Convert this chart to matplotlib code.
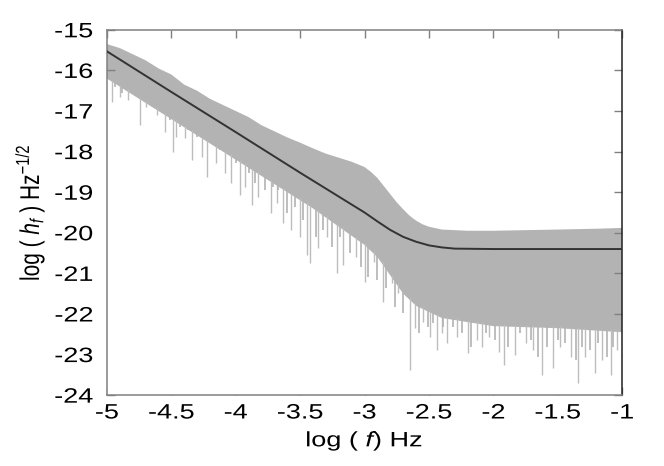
import matplotlib
matplotlib.use("Agg")
import numpy as np
import matplotlib.pyplot as plt
from matplotlib import patheffects
from matplotlib.transforms import Affine2D

plt.rcParams['font.family'] = ['Liberation Sans', 'DejaVu Sans']
plt.rcParams['mathtext.fontset'] = 'custom'
plt.rcParams['mathtext.rm'] = 'Liberation Sans'
plt.rcParams['mathtext.it'] = 'Liberation Sans:italic'
plt.rcParams['axes.unicode_minus'] = False

# smooth model curve (dark line)
curve_x = [-5.0, -4.5, -4.0, -3.5, -3.0, -2.9, -2.8, -2.7, -2.6, -2.5, -2.4, -2.3, -2.0, -1.0]
curve_y = [-15.53, -16.53, -17.52, -18.52, -19.5, -19.72, -19.93, -20.1, -20.22, -20.31,
           -20.36, -20.39, -20.4, -20.4]

# noisy spectrum: upper edge and solid lower edge of the grey band
upper_x = [-5.0, -4.9, -4.8, -4.7, -4.6, -4.5, -4.4, -4.3, -4.2, -4.1, -4.0, -3.9, -3.8,
           -3.7, -3.6, -3.5, -3.4, -3.3, -3.2, -3.1, -3.0, -2.95, -2.9, -2.85, -2.8, -2.75,
           -2.7, -2.65, -2.6, -2.55, -2.5, -2.4, -2.2, -2.0, -1.5, -1.2, -1.0]
upper_y = [-15.35, -15.45, -15.6, -15.75, -15.95, -16.1, -16.35, -16.5, -16.7, -16.85,
           -17.0, -17.15, -17.35, -17.5, -17.65, -17.78, -17.92, -18.05, -18.15, -18.25,
           -18.38, -18.5, -18.65, -18.85, -19.05, -19.25, -19.42, -19.58, -19.7, -19.79,
           -19.85, -19.92, -19.95, -19.95, -19.92, -19.9, -19.88]

lower_x = [-5.0, -4.8, -4.6, -4.4, -4.2, -4.0, -3.8, -3.6, -3.4, -3.2, -3.0, -2.9, -2.8,
           -2.7, -2.6, -2.5, -2.4, -2.2, -2.0, -1.5, -1.0]
lower_y = [-16.2, -16.6, -17.0, -17.4, -17.8, -18.2, -18.6, -19.0, -19.4, -19.85, -20.3,
           -20.6, -21.05, -21.5, -21.8, -21.95, -22.1, -22.2, -22.3, -22.35, -22.45]

# deep downward spikes (x, tip)
spike_x = [-4.96, -4.90, -4.84, -4.74, -4.70, -4.61, -4.55, -4.49, -4.46, -4.39, -4.34,
           -4.26, -4.22, -4.15, -4.08, -4.04, -3.97, -3.93, -3.87, -3.83, -3.73, -3.68,
           -3.63, -3.57, -3.50, -3.45, -3.42, -3.36, -3.29, -3.21, -3.17, -3.07, -3.00,
           -2.93, -2.86, -2.79, -2.74, -2.65, -2.61, -2.55, -2.49, -2.44, -2.40, -2.36,
           -2.28, -2.20, -2.13, -2.09, -2.03, -1.96, -1.92, -1.83, -1.75, -1.69, -1.62,
           -1.54, -1.48, -1.40, -1.34, -1.29, -1.21, -1.16, -1.09, -1.04]
spike_y = [-16.77, -16.65, -16.72, -17.34, -16.9, -17.1, -17.51, -18.0, -17.64, -17.66,
           -18.2, -18.13, -18.62, -18.28, -18.52, -18.77, -19.06, -18.87, -19.31, -19.11,
           -19.51, -19.26, -19.75, -19.93, -20.1, -20.54, -20.74, -20.37, -20.1, -20.99,
           -20.79, -20.59, -21.2, -20.71, -21.7, -21.23, -21.48, -23.37, -22.34, -22.19,
           -22.56, -22.88, -22.46, -22.71, -22.56, -22.96, -22.64, -22.81, -22.56, -22.93,
           -23.25, -23.0, -22.71, -22.88, -23.5, -23.33, -22.81, -23.05, -23.69, -23.05,
           -23.45, -23.13, -23.5, -22.88]

# shorter spikes of the lower fringe
fringe_x = [-4.94, -4.88, -4.78, -4.67, -4.57, -4.51, -4.43, -4.37, -4.30, -4.19, -4.12,
            -4.00, -3.90, -3.85, -3.77, -3.71, -3.67, -3.60, -3.54, -3.48, -3.38, -3.32,
            -3.25, -3.19, -3.11, -3.03, -2.97, -2.90, -2.83, -2.76, -2.70, -2.58, -2.51,
            -2.47, -2.39, -2.31, -2.24, -2.17, -2.06, -1.99, -1.89, -1.79, -1.71, -1.65,
            -1.58, -1.50, -1.44, -1.36, -1.31, -1.25, -1.19, -1.12, -1.07]
fringe_y = [-16.4, -16.55, -16.48, -16.72, -16.9, -17.22, -17.39, -17.46, -17.64, -17.79,
            -17.96, -18.28, -18.52, -18.77, -18.94, -18.87, -18.94, -19.51, -19.36, -19.68,
            -20.1, -19.93, -20.34, -20.1, -20.5, -20.84, -21.08, -21.16, -21.36, -21.82,
            -21.97, -22.46, -22.32, -22.22, -22.32, -22.32, -22.46, -22.81, -22.46, -22.64,
            -22.81, -22.46, -22.64, -23.05, -22.81, -22.64, -22.71, -23.13, -22.81, -22.88,
            -22.71, -23.05, -22.81]

xticks = [-5, -4.5, -4, -3.5, -3, -2.5, -2, -1.5, -1]
xtick_labels = ['-5', '-4.5', '-4', '-3.5', '-3', '-2.5', '-2', '-1.5', '-1']
yticks = list(range(-24, -14))


class Stretch(patheffects.AbstractPathEffect):
    # the reference text is wider than it is tall, stretch glyphs sideways
    def __init__(self, sx=1.0, sy=1.0, anchor='center'):
        super().__init__()
        self.sx, self.sy, self.anchor = sx, sy, anchor

    def draw_path(self, renderer, gc, tpath, affine, rgbFace=None):
        ext = tpath.get_extents()
        cx = ext.x1 if self.anchor == 'right' else (ext.x0 + ext.x1) / 2
        cy = (ext.y0 + ext.y1) / 2
        t = Affine2D().translate(-cx, -cy).scale(self.sx, self.sy).translate(cx, cy) + affine
        renderer.draw_path(gc, tpath, t, rgbFace)


SX = 1.3
FS = 15

fig = plt.figure(figsize=(6.64, 4.66), dpi=100)
ax = fig.add_axes([0.161, 0.152, 0.776, 0.784])

grey = '#b3b3b3'
ax.fill_between(upper_x, upper_y, -30, color=grey, lw=0, zorder=1)
lx = np.array(lower_x)
ly = np.array(lower_y)
ax.fill_between(lx, ly, -30, color='white', lw=0, zorder=2)
tops = np.interp(spike_x, lx, ly) + 0.05
ax.vlines(spike_x, spike_y, tops, color='#bdbdbd', lw=1.0, zorder=3)
tops2 = np.interp(fringe_x, lx, ly) + 0.05
ax.vlines(fringe_x, fringe_y, tops2, color=grey, lw=1.2, zorder=3)

ax.plot(curve_x, curve_y, color='#333333', lw=1.4, zorder=4)

ax.set_xlim(-5, -1)
ax.set_ylim(-24, -15)
ax.set_xticks(xticks)
ax.set_xticklabels(xtick_labels)
ax.set_yticks(yticks)
ax.set_yticklabels([str(t) for t in yticks])
ax.tick_params(direction='in', length=6, width=1.0, color='#808080',
               top=True, right=True, labelsize=FS)
ax.tick_params(axis='x', pad=6)
ax.tick_params(axis='y', pad=10)
for lab in ax.get_xticklabels():
    lab.set_path_effects([Stretch(sx=SX)])
for lab in ax.get_yticklabels():
    lab.set_path_effects([Stretch(sx=SX, anchor='right')])
for s in ax.spines.values():
    s.set_color('#808080')
    s.set_linewidth(1.1)
ax.spines['right'].set_color('#202020')

xl = ax.set_xlabel(r'log ( $\mathit{f}$) Hz', fontsize=FS, labelpad=5)
yl = ax.set_ylabel(r'log ( $\mathit{h}_{\mathit{f}}$ ) Hz$^{\mathrm{-1/2}}$', fontsize=FS, labelpad=14)
xl.set_path_effects([Stretch(sx=SX)])
yl.set_path_effects([Stretch(sy=SX)])

fig.savefig('out.png', dpi=100)
